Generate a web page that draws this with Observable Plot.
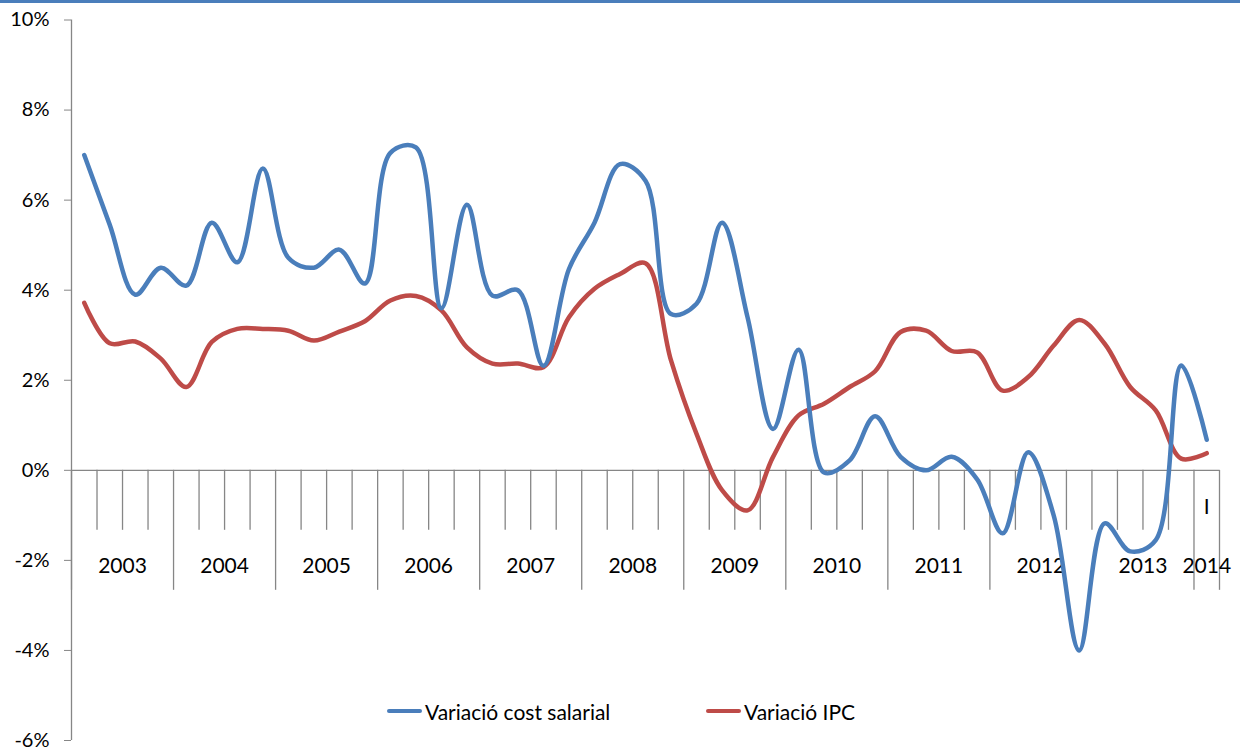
<!DOCTYPE html>
<html>
<head>
<meta charset="utf-8">
<script src="https://cdn.jsdelivr.net/npm/d3@7"></script>
<script src="https://cdn.jsdelivr.net/npm/@observablehq/plot@0.6"></script>
<style>
  html, body { margin: 0; padding: 0; background: #fff; }
  #wrap { position: relative; width: 1240px; height: 749px; overflow: hidden; font-family: Lato, "Open Sans", sans-serif; }
  #topbar { position: absolute; left: 0; top: 0; width: 1240px; height: 3px; background: #4a7ebb; }
  #chart { position: absolute; left: 0; top: 0; }
  .item { position: absolute; top: 699px; height: 24px; display: flex; align-items: center; font-size: 21px; color: #000; white-space: nowrap; }
  .sw { width: 35px; height: 4px; border-radius: 2px; margin-right: 3px; }
</style>
</head>
<body>
<div id="wrap">
  <div id="chart"></div>
  <div id="topbar"></div>
  <div id="legend"></div>
</div>
<script>
// Years of the category axis and number of quarters shown per year
const years = ["2003","2004","2005","2006","2007","2008","2009","2010","2011","2012","2013","2014"];
const quartersPerYear = [4,4,4,4,4,4,4,4,4,4,4,1];
// Year groups whose left separator is drawn as a long tick (2013 separator is short in the original)
const longSeparator = [true,true,true,true,true,true,true,true,true,true,false,true];
// Quarter label shown only under the last (partial) year
const lastQuarterLabel = "I";

// Series (%), quarterly 2003-I .. 2014-I
const costSalarial = [
  7.0, 5.45, 3.9, 4.5, 4.1, 5.5, 4.62, 6.7, 4.72, 4.5, 4.9, 4.15,
  7.05, 7.17, 3.6, 5.9, 3.88, 4.0, 2.32, 4.47, 5.5, 6.8, 6.43, 3.47,
  3.7, 5.5, 3.4, 0.92, 2.68, -0.05, 0.22, 1.2, 0.3, 0.0, 0.3, -0.2,
  -1.4, 0.4, -1.0, -4.0, -1.18, -1.8, -1.55, 2.33, 0.68
];
const variacioIPC = [
  3.72, 2.82, 2.86, 2.48, 1.85, 2.85, 3.14, 3.14, 3.1, 2.88, 3.08, 3.31,
  3.77, 3.87, 3.55, 2.73, 2.37, 2.37, 2.29, 3.4, 4.03, 4.36, 4.6, 2.44,
  0.81, -0.44, -0.89, 0.3, 1.22, 1.48, 1.85, 2.2, 3.07, 3.1, 2.65, 2.62,
  1.77, 2.07, 2.77, 3.34, 2.81, 1.85, 1.33, 0.26, 0.38
];
const yTicks = [-6, -4, -2, 0, 2, 4, 6, 8, 10];

const seriesNames = ["Variació cost salarial", "Variació IPC"];
const seriesColors = ["#4a7ebb", "#be4b48"];

// Build tables
const rows = [];
const yearRows = [];
let k = 0;
years.forEach((yr, j) => {
  const start = k;
  for (let q = 0; q < quartersPerYear[j]; q++) {
    rows.push({ i: k, year: yr, cost: costSalarial[k], ipc: variacioIPC[k] });
    k++;
  }
  yearRows.push({ year: yr, start, end: k, long: longSeparator[j] });
});
const nQ = k;
const quarterBounds = d3.range(nQ + 1);
const longBounds = [...yearRows.filter(d => d.long).map(d => d.start), nQ];
const shortBounds = quarterBounds.filter(b => !longBounds.includes(b));
const lastRow = rows[rows.length - 1];

const axisColor = "#868686";

const plot = Plot.plot({
  width: 1240,
  height: 749,
  marginLeft: 71,
  marginRight: 21,
  marginTop: 19.5,
  marginBottom: 9,
  style: { fontFamily: "Lato, 'Open Sans', sans-serif", fontSize: "20px", color: "#000", background: "transparent" },
  x: { domain: [0, nQ], axis: null },
  y: { domain: [-6, 10], axis: null },
  marks: [
    Plot.ruleX([0], { stroke: axisColor, strokeWidth: 1.3 }),
    Plot.axisY({ ticks: yTicks, tickFormat: d => d + "%", tickSize: 7, tickPadding: 15, stroke: axisColor, fill: "#000", fontSize: 20 }),
    Plot.ruleY([0], { stroke: axisColor, strokeWidth: 1.3 }),
    Plot.ruleX(shortBounds, { x: d => d, y1: () => 0, y2: () => 0, insetBottom: -60, stroke: axisColor, strokeWidth: 1.3 }),
    Plot.ruleX(longBounds, { x: d => d, y1: () => 0, y2: () => 0, insetBottom: -120, stroke: axisColor, strokeWidth: 1.3 }),
    Plot.text(yearRows, { x: d => (d.start + d.end) / 2, y: () => 0, dy: 96, text: "year", fontSize: 21, fill: "#000" }),
    Plot.text([lastRow], { x: d => d.i + 0.5, y: () => 0, dy: 37, text: () => lastQuarterLabel, fontSize: 21, fill: "#000" }),
    Plot.line(rows, { x: d => d.i + 0.5, y: "ipc", stroke: seriesColors[1], strokeWidth: 4.5, curve: "catmull-rom", strokeLinecap: "round", strokeLinejoin: "round" }),
    Plot.line(rows, { x: d => d.i + 0.5, y: "cost", stroke: seriesColors[0], strokeWidth: 4.5, curve: "catmull-rom", strokeLinecap: "round", strokeLinejoin: "round" })
  ]
});
document.getElementById("chart").appendChild(plot);

// Legend
const legendLefts = [387, 706];
const legend = document.getElementById("legend");
seriesNames.forEach((name, j) => {
  const it = document.createElement("div");
  it.className = "item";
  it.style.left = legendLefts[j] + "px";
  const sw = document.createElement("div");
  sw.className = "sw";
  sw.style.background = seriesColors[j];
  const tx = document.createElement("span");
  tx.textContent = name;
  it.appendChild(sw);
  it.appendChild(tx);
  legend.appendChild(it);
});
</script>
</body>
</html>
